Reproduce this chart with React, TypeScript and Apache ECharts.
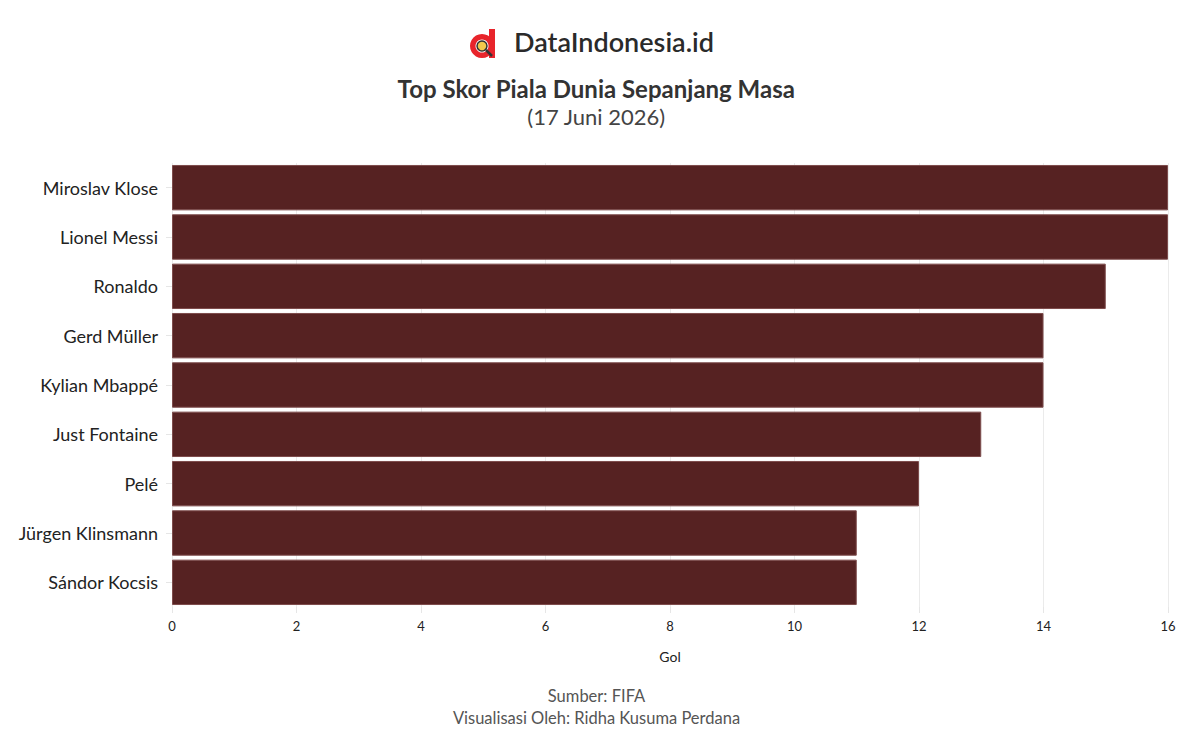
import React, { useEffect, useRef } from "react";
import * as echarts from "echarts";

const players = [
  "Miroslav Klose",
  "Lionel Messi",
  "Ronaldo",
  "Gerd Müller",
  "Kylian Mbappé",
  "Just Fontaine",
  "Pelé",
  "Jürgen Klinsmann",
  "Sándor Kocsis",
];
const goals = [16, 16, 15, 14, 14, 13, 12, 11, 11];
const titleText = "Top Skor Piala Dunia Sepanjang Masa";
const subtitleText = "(17 Juni 2026)";
const sourceText = "Sumber: FIFA";
const creditText = "Visualisasi Oleh: Ridha Kusuma Perdana";
const brandText = "DataIndonesia.id";
const xAxisName = "Gol";

const FONT = "Lato, 'Noto Sans', sans-serif";

export default function App() {
  const ref = useRef<HTMLDivElement>(null);
  useEffect(() => {
    if (!ref.current) return;
    const chart = echarts.init(ref.current, null, { renderer: "svg" });
    chart.setOption({
      animation: false,
      backgroundColor: "#ffffff",
      textStyle: { fontFamily: FONT },
      grid: { left: 172, right: 25, top: 163, bottom: 138, containLabel: false },
      xAxis: {
        type: "value",
        min: 0,
        max: 16,
        interval: 2,
        name: xAxisName,
        nameLocation: "middle",
        nameGap: 42,
        nameTextStyle: { fontSize: 14, color: "#222", fontFamily: FONT },
        axisLine: { show: false },
        axisTick: { show: true, length: 6, lineStyle: { color: "#e6e6e6" } },
        axisLabel: { fontSize: 13, color: "#222", margin: 12, fontFamily: FONT },
        splitLine: { show: true, lineStyle: { color: "#ebebeb", width: 1 } },
      },
      yAxis: {
        type: "category",
        data: players,
        inverse: true,
        axisLine: { show: false },
        axisTick: { show: true, length: 6, alignWithLabel: true, lineStyle: { color: "#e6e6e6" } },
        axisLabel: { fontSize: 18, color: "#222", margin: 14, fontFamily: FONT },
        splitLine: { show: false },
      },
      series: [
        {
          type: "bar",
          data: goals,
          barCategoryGap: "8%",
          itemStyle: { color: "#562222", borderColor: "#7d4c4c", borderWidth: 1 },
        },
      ],
      graphic: [
        { type: "ring", shape: { cx: 482, cy: 46, r: 12, r0: 6.5 }, style: { fill: "#e8242b" } },
        { type: "rect", shape: { x: 489, y: 29, width: 6, height: 29 }, style: { fill: "#e8242b" } },
        { type: "circle", shape: { cx: 482, cy: 46, r: 5 }, style: { fill: "#f2c94c", stroke: "#333", lineWidth: 1.5 } },
        { type: "line", shape: { x1: 486, y1: 50, x2: 492, y2: 56 }, style: { stroke: "#333", lineWidth: 2.5 } },
        {
          type: "text",
          x: 514,
          y: 28,
          style: { text: brandText, font: `600 27px ${FONT}`, fill: "#2a2a2a" },
        },
        {
          type: "text",
          left: "center",
          top: 76,
          style: { text: titleText, font: `bold 24px ${FONT}`, fill: "#333" },
        },
        {
          type: "text",
          left: "center",
          top: 105,
          style: { text: subtitleText, font: `22px ${FONT}`, fill: "#444" },
        },
        {
          type: "text",
          left: "center",
          top: 687,
          style: { text: sourceText, font: `16.5px ${FONT}`, fill: "#555" },
        },
        {
          type: "text",
          left: "center",
          top: 709,
          style: { text: creditText, font: `16.5px ${FONT}`, fill: "#555" },
        },
      ],
    });
    return () => chart.dispose();
  }, []);
  return (
    <div
      ref={ref}
      style={{ position: "fixed", left: 0, top: 0, width: 1193, height: 745 }}
    />
  );
}
